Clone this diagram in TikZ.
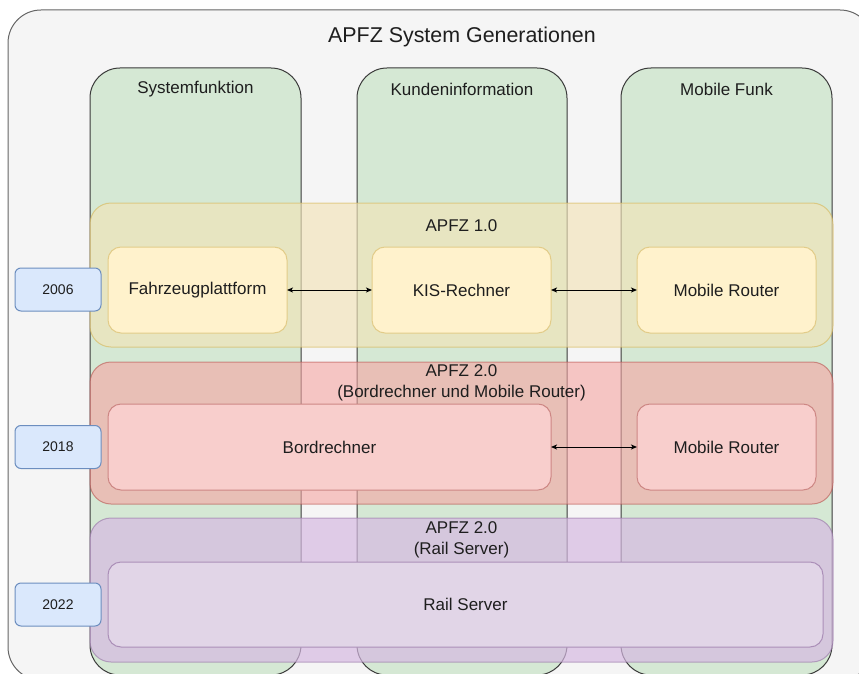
\documentclass[tikz,border=0pt]{standalone}
\usepackage{fontspec}
\setmainfont{Liberation Sans}
\usetikzlibrary{arrows.meta}

\definecolor{outerfill}{HTML}{F5F5F5}
\definecolor{outerline}{HTML}{666666}
\definecolor{colfill}{HTML}{D5E8D4}
\definecolor{colline}{HTML}{3A3A3A}
\definecolor{yelband}{HTML}{F2E4B8}
\definecolor{yelline}{HTML}{D6B656}
\definecolor{yelbox}{HTML}{FFF2CC}
\definecolor{redband}{HTML}{F5A5A3}
\definecolor{redline}{HTML}{B85450}
\definecolor{redbox}{HTML}{F8CECC}
\definecolor{purband}{HTML}{D6B9E2}
\definecolor{purline}{HTML}{9673A6}
\definecolor{purbox}{HTML}{E1D5E7}
\definecolor{yearfill}{HTML}{DAE8FC}
\definecolor{yearline}{HTML}{6C8EBF}
\definecolor{txt}{HTML}{1E1E1E}

\tikzset{
  shapebase/.style={rectangle, inner sep=0pt, outer sep=0pt, line width=1pt, text=txt},
  container/.style={shapebase, fill=outerfill, draw=outerline, rounded corners=33pt},
  column/.style={shapebase, fill=colfill, draw=colline, rounded corners=30pt},
  band/.style={shapebase, rounded corners=21pt, fill opacity=0.65, draw opacity=0.6},
  yband/.style={band, fill=yelband, draw=yelline},
  rband/.style={band, fill=redband, draw=redline, fill opacity=0.6},
  pband/.style={band, fill=purband, draw=purline, fill opacity=0.69},
  unit/.style={shapebase, rounded corners=13pt, font=\fontsize{17}{20}\selectfont},
  yunit/.style={unit, fill=yelbox, draw=yelline!70},
  runit/.style={unit, fill=redbox, draw=redline!70},
  punit/.style={unit, fill=purbox, draw=purline!80},
  year/.style={shapebase, rounded corners=6pt, fill=yearfill, draw=yearline,
    minimum width=86pt, minimum height=43pt, font=\fontsize{14}{17}\selectfont},
  label/.style={inner sep=0pt, text=txt, font=\fontsize{17}{21}\selectfont, align=center},
  link/.style={line width=1pt, black, {Stealth[length=6pt,width=5pt,inset=1.5pt]}-{Stealth[length=6pt,width=5pt,inset=1.5pt]}}
}

\begin{document}
\begin{tikzpicture}[x=1pt, y=-1pt]
  \useasboundingbox (0,0) rectangle (859,674);
  \clip (0,0) rectangle (859,674);

  % outer container and title
  \node[container, minimum width=865pt, minimum height=670pt] (outer) at (440.5,345) {};
  \node[inner sep=0pt, text=txt, font=\fontsize{21.4}{25}\selectfont] (title) at (462,37) {APFZ System Generationen};

  % function columns
  \node[column, minimum width=211pt, minimum height=607pt] (colA) at (195.5,371.5) {};
  \node[column, minimum width=210pt, minimum height=607pt] (colB) at (462,371.5) {};
  \node[column, minimum width=211pt, minimum height=607pt] (colC) at (726.5,371.5) {};
  \node[label] (colAt) at (195.5,89) {Systemfunktion};
  \node[label] (colBt) at (462,89) {Kundeninformation};
  \node[label] (colCt) at (726.5,89) {Mobile Funk};

  % generation bands
  \node[yband, minimum width=743pt, minimum height=144pt] (gen1) at (461.5,275) {};
  \node[rband, minimum width=743pt, minimum height=142pt] (gen2) at (461.5,433) {};
  \node[pband, minimum width=743pt, minimum height=144pt] (gen3) at (461.5,590) {};
  \node[label] (gen1t) at (461.5,226) {APFZ 1.0};
  \node[label] (gen2t) at (461.5,382.5) {APFZ 2.0\\(Bordrechner und Mobile Router)};
  \node[label] (gen3t) at (461.5,540) {APFZ 2.0\\(Rail Server)};

  % APFZ 1.0 components
  \node[yunit, minimum width=179pt, minimum height=86pt] (fzp) at (197.5,290) {Fahrzeugplattform};
  \node[yunit, minimum width=179pt, minimum height=86pt] (kis) at (461.5,290) {KIS-Rechner};
  \node[yunit, minimum width=179pt, minimum height=86pt] (mr1) at (726.5,290) {Mobile Router};

  % APFZ 2.0 components
  \node[runit, minimum width=443pt, minimum height=86pt] (bord) at (329.5,447) {Bordrechner};
  \node[runit, minimum width=179pt, minimum height=86pt] (mr2) at (726.5,447) {Mobile Router};

  % Rail Server
  \node[punit, minimum width=715pt, minimum height=85pt] (rail) at (465.5,604.5) {Rail Server};

  % links
  \draw[link] (fzp.east) -- (kis.west);
  \draw[link] (kis.east) -- (mr1.west);
  \draw[link] (bord.east) -- (mr2.west);

  % years
  \node[year] (y2006) at (58,289.5) {2006};
  \node[year] (y2018) at (58,447) {2018};
  \node[year] (y2022) at (58,604.5) {2022};
\end{tikzpicture}
\end{document}
